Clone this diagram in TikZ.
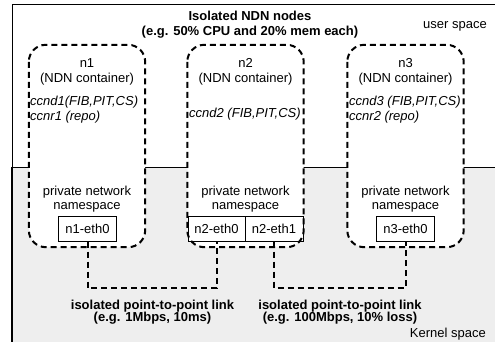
\documentclass[tikz,border=0pt]{standalone}
\usepackage{fontspec}
\setmainfont{Liberation Sans}
\definecolor{kernelgray}{RGB}{238,238,238}
\begin{document}
\begin{tikzpicture}[x=1pt,y=-1pt,
  txt/.style={font=\fontsize{13}{15}\selectfont, inner sep=0pt, anchor=base},
  btxt/.style={txt, font=\fontsize{13}{15}\selectfont\bfseries},
  itxt/.style={txt, font=\fontsize{13}{15}\selectfont\itshape, anchor=base west},
  container/.style={fill=white, rounded corners=17pt, minimum width=116pt,
    minimum height=202pt, inner sep=0pt},
  outline/.style={draw=black, dash pattern=on 6pt off 4pt, line width=2pt, rounded corners=17pt},
  ethbox/.style={draw=black, fill=white, line width=1pt, minimum width=58pt,
    minimum height=25pt, inner sep=0pt, font=\fontsize{13}{15}\selectfont},
  link/.style={draw=black, dash pattern=on 6pt off 4pt, line width=2pt}]
\useasboundingbox (0,0) rectangle (495,341);
% spaces
\fill[kernelgray] (12,167) rectangle (500,345);
\draw[line width=1pt] (12,167) -- (500,167);
\draw[line width=1pt] (12,167) -- (12,4) -- (500,4);
\draw[line width=2pt] (12,167) -- (12,345);
% containers
\node[container] (c1) at (87,146) {};
\node[container] (c2) at (245.5,146) {};
\node[container] (c3) at (405.5,146) {};
% interfaces
\node[ethbox] (e10) at (87.5,228.5) {n1-eth0};
\node[ethbox, minimum width=57pt] (e20) at (216.5,228.5) {n2-eth0};
\node[ethbox, minimum width=58pt] (e21) at (274,228.5) {n2-eth1};
\node[ethbox] (e30) at (405.5,228.5) {n3-eth0};
% container outlines
\draw[outline] (c1.north west) rectangle (c1.south east);
\draw[outline] (c2.north west) rectangle (c2.south east);
\draw[outline] (c3.north west) rectangle (c3.south east);
% texts
\node[btxt] (title1) at (250,20.5) {Isolated NDN nodes};
\node[btxt] (title2) at (250,35.5) {(e.g. 50\% CPU and 20\% mem each)};
\node[txt] (user) at (455,28) {user space};
\node[txt, anchor=base east] (kern) at (486,337.5) {Kernel space};
\node[txt] (n1a) at (c1.center |- 0,67.5) {n1};
\node[txt] (n1b) at (c1.center |- 0,82.5) {(NDN container)};
\node[txt] (n2a) at (c2.center |- 0,67.5) {n2};
\node[txt] (n2b) at (c2.center |- 0,82.5) {(NDN container)};
\node[txt] (n3a) at (c3.center |- 0,67.5) {n3};
\node[txt] (n3b) at (c3.center |- 0,82.5) {(NDN container)};
\node[itxt] (n1c) at (30,105.5) {ccnd1(FIB,PIT,CS)};
\node[itxt] (n1d) at (30,120.5) {ccnr1 (repo)};
\node[itxt] (n2c) at (189,117.5) {ccnd2 (FIB,PIT,CS)};
\node[itxt] (n3c) at (349,105.5) {ccnd3 (FIB,PIT,CS)};
\node[itxt] (n3d) at (349,120.5) {ccnr2 (repo)};
\node[txt] (p1a) at (c1.center |- 0,195.5) {private network};
\node[txt] (p1b) at (c1.center |- 0,209) {namespace};
\node[txt] (p2a) at (c2.center |- 0,195.5) {private network};
\node[txt] (p2b) at (c2.center |- 0,209) {namespace};
\node[txt] (p3a) at (c3.center |- 0,195.5) {private network};
\node[txt] (p3b) at (c3.center |- 0,209) {namespace};
% links
\coordinate (k1) at (87.5,288);
\coordinate (k2) at (274,288);
\draw[link] (e10.south) -- (e10.south |- k1) -| (e20.south);
\draw[link] (e21.south) -- (e21.south |- k2) -| (e30.south);
\node[btxt] (l1a) at (152.5,309.5) {isolated point-to-point link};
\node[btxt] (l1b) at (152.5,321.5) {(e.g. 1Mbps, 10ms)};
\node[btxt] (l2a) at (340,309.5) {isolated point-to-point link};
\node[btxt] (l2b) at (340,321.5) {(e.g. 100Mbps, 10\% loss)};
\end{tikzpicture}
\end{document}
